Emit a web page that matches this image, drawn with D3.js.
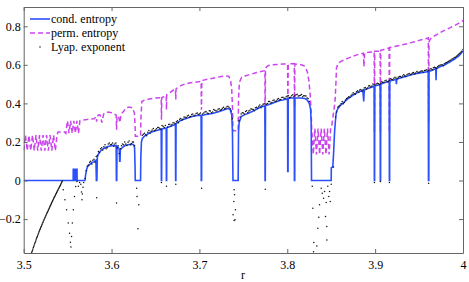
<!DOCTYPE html>
<html><head><meta charset="utf-8">
<script src="https://cdn.jsdelivr.net/npm/d3@7/dist/d3.min.js"></script>
<style>
body{margin:0;background:#fff;}
</style></head>
<body><svg id="chart" width="469" height="282"></svg>
<script>
// ---- data ----
const xTicks = [3.5, 3.6, 3.7, 3.8, 3.9, 4];
const yTicks = [-0.2, 0, 0.2, 0.4, 0.6, 0.8];
const seriesNames = ["cond. entropy", "perm. entropy", "Lyap. exponent"];

// conditional entropy (blue)
const condR = [3.500,3.5563,3.5564,3.5577,3.5578,3.5591,3.5592,3.5607,3.5608,3.5697,3.5705,3.5715,3.5725,3.575,3.5775,3.580,3.5822,3.5827,3.5833,3.5838,3.585,3.5875,3.590,3.5925,3.595,3.5975,3.600,3.6025,3.6052,3.6055,3.6059,3.6062,3.6075,3.6088,3.6092,3.6096,3.6100,3.6125,3.615,3.6175,3.620,3.6225,3.625,3.6262,3.6267,3.6270,3.6330,3.6333,3.6340,3.635,3.6375,3.640,3.6425,3.645,3.6475,3.650,3.6525,3.655,3.6565,3.6567,3.6570,3.6573,3.660,3.6622,3.6624,3.6627,3.6629,3.665,3.6675,3.670,3.6727,3.6729,3.6732,3.6734,3.675,3.6775,3.680,3.6825,3.685,3.6875,3.690,3.6925,3.695,3.6975,3.7019,3.7021,3.7025,3.7027,3.705,3.7075,3.710,3.7125,3.715,3.7175,3.720,3.7225,3.725,3.7275,3.730,3.7325,3.735,3.7368,3.7376,3.7380,3.7382,3.7441,3.7445,3.7452,3.7475,3.750,3.7525,3.755,3.7575,3.760,3.7625,3.765,3.7675,3.770,3.7745,3.7747,3.7750,3.7752,3.7775,3.780,3.7825,3.785,3.7875,3.790,3.7925,3.795,3.7975,3.8003,3.8005,3.8009,3.8011,3.805,3.8079,3.8081,3.8085,3.8087,3.810,3.8125,3.815,3.8175,3.820,3.8225,3.825,3.8265,3.8272,3.8276,3.8500,3.8501,3.8518,3.8528,3.8538,3.8548,3.8558,3.8575,3.860,3.8625,3.865,3.8675,3.870,3.8725,3.875,3.8775,3.880,3.8825,3.8860,3.8870,3.8876,3.890,3.8925,3.895,3.8975,3.8989,3.8991,3.8994,3.8996,3.9025,3.9057,3.9059,3.9062,3.9064,3.9075,3.910,3.9125,3.915,3.9160,3.9162,3.9165,3.9167,3.920,3.9225,3.9238,3.9242,3.9246,3.9275,3.930,3.9325,3.935,3.9375,3.940,3.9425,3.945,3.9475,3.950,3.9525,3.955,3.9575,3.9605,3.9607,3.9611,3.9613,3.9625,3.965,3.9675,3.969,3.9693,3.9697,3.9725,3.975,3.9775,3.980,3.9825,3.985,3.9875,3.990,3.9925,3.995,3.9975,4.000];
const condV = [0,0,0.058,0.058,0,0,0.058,0.058,0,0,0.03,0.055,0.07,0.083,0.092,0.098,0.105,0,0,0.12,0.138,0.153,0.163,0.17,0.175,0.178,0.18,0.182,0.18,0,0,0.178,0.172,0.16,0.10,0.10,0.158,0.172,0.18,0.184,0.187,0.188,0.187,0.17,0.08,0,0,0.12,0.2,0.218,0.23,0.238,0.245,0.25,0.254,0.258,0.261,0.265,0.267,0,0,0.268,0.27,0.272,0,0,0.274,0.278,0.282,0.287,0.29,0,0,0.293,0.3,0.308,0.314,0.318,0.322,0.326,0.33,0.333,0.335,0.337,0.338,0,0,0.338,0.34,0.342,0.344,0.346,0.348,0.351,0.354,0.358,0.362,0.366,0.37,0.373,0.368,0.34,0.25,0.08,0,0,0.25,0.3,0.332,0.338,0.343,0.348,0.353,0.358,0.364,0.37,0.376,0.382,0.387,0,0,0.389,0.392,0.396,0.4,0.405,0.409,0.413,0.416,0.418,0.421,0.423,0.047,0.047,0.425,0.428,0.428,0,0,0.428,0.428,0.428,0.428,0.427,0.425,0.418,0.4,0.37,0.3,0,0,0.066,0.07,0.15,0.25,0.31,0.355,0.372,0.388,0.398,0.408,0.418,0.428,0.435,0.443,0.45,0.457,0.462,0.468,0.41,0.468,0.475,0.479,0.483,0.487,0.489,0,0,0.49,0.494,0.497,0,0,0.499,0.502,0.507,0.51,0.513,0.515,0,0,0.516,0.52,0.523,0.524,0.50,0.525,0.53,0.533,0.537,0.54,0.543,0.547,0.55,0.553,0.555,0.557,0.559,0.561,0.563,0.565,0,0,0.567,0.568,0.572,0.577,0.58,0.52,0.58,0.587,0.592,0.597,0.602,0.609,0.615,0.622,0.629,0.637,0.645,0.657,0.672];

// permutation entropy (magenta, dashed)
const permR = [3.500,3.502,3.504,3.506,3.508,3.510,3.512,3.514,3.516,3.518,3.520,3.522,3.524,3.526,3.528,3.530,3.532,3.534,3.536,3.538,3.539,3.5465,3.548,3.5498,3.5516,3.5534,3.5552,3.557,3.5588,3.5606,3.5624,3.564,3.570,3.575,3.580,3.5825,3.583,3.5835,3.585,3.587,3.589,3.591,3.5925,3.596,3.600,3.603,3.6052,3.6057,3.6062,3.608,3.6094,3.611,3.614,3.616,3.619,3.622,3.624,3.626,3.6268,3.627,3.633,3.6335,3.6345,3.638,3.642,3.646,3.650,3.6565,3.6568,3.6572,3.660,3.6622,3.6625,3.6628,3.666,3.670,3.6728,3.6731,3.6734,3.676,3.680,3.685,3.690,3.695,3.7019,3.7023,3.7027,3.706,3.710,3.715,3.720,3.725,3.730,3.7335,3.7355,3.7368,3.7376,3.7382,3.7441,3.7445,3.7455,3.748,3.752,3.756,3.760,3.765,3.770,3.7745,3.7748,3.7752,3.778,3.782,3.788,3.794,3.8003,3.8007,3.8011,3.805,3.8079,3.8083,3.8087,3.812,3.816,3.819,3.821,3.823,3.8245,3.826,3.8272,3.8278,3.8296,3.8314,3.8332,3.835,3.8368,3.8386,3.8404,3.8422,3.844,3.8458,3.8476,3.8494,3.8505,3.852,3.8535,3.8545,3.8555,3.856,3.858,3.861,3.865,3.870,3.875,3.880,3.8866,3.8873,3.888,3.893,3.8989,3.8992,3.8996,3.903,3.9057,3.9060,3.9064,3.910,3.9159,3.9162,3.9166,3.920,3.925,3.930,3.935,3.940,3.945,3.950,3.955,3.9595,3.9605,3.9609,3.9613,3.963,3.966,3.970,3.975,3.980,3.985,3.990,3.995,4.000];
const permV = [0.155,0.235,0.155,0.235,0.155,0.235,0.155,0.235,0.155,0.235,0.155,0.235,0.155,0.235,0.155,0.235,0.155,0.235,0.155,0.235,0.252,0.252,0.245,0.31,0.245,0.31,0.245,0.31,0.245,0.31,0.245,0.31,0.315,0.318,0.32,0.33,0.305,0.33,0.34,0.34,0.3,0.345,0.345,0.355,0.352,0.345,0.34,0.263,0.33,0.335,0.3,0.345,0.36,0.375,0.38,0.38,0.375,0.35,0.28,0.23,0.23,0.33,0.41,0.418,0.422,0.425,0.428,0.43,0.315,0.43,0.435,0.44,0.367,0.445,0.455,0.468,0.472,0.42,0.475,0.485,0.495,0.502,0.507,0.51,0.514,0.367,0.518,0.522,0.526,0.53,0.535,0.54,0.543,0.54,0.52,0.47,0.38,0.258,0.258,0.42,0.51,0.535,0.542,0.548,0.553,0.56,0.566,0.57,0.30,0.584,0.595,0.6,0.602,0.604,0.605,0.40,0.605,0.606,0.606,0.38,0.605,0.603,0.6,0.595,0.585,0.56,0.52,0.45,0.35,0.27,0.135,0.27,0.135,0.27,0.135,0.27,0.135,0.27,0.135,0.27,0.135,0.27,0.28,0.33,0.38,0.42,0.52,0.585,0.608,0.618,0.626,0.636,0.645,0.653,0.66,0.59,0.662,0.665,0.668,0.25,0.67,0.67,0.671,0.25,0.675,0.68,0.688,0.25,0.69,0.693,0.698,0.703,0.708,0.714,0.72,0.727,0.733,0.738,0.74,0.30,0.72,0.735,0.745,0.757,0.77,0.781,0.792,0.803,0.815,0.83];

// Lyapunov exponent (black dots), main samples
const lyapR = [3.509,3.510,3.511,3.512,3.513,3.514,3.515,3.516,3.517,3.518,3.519,3.520,3.521,3.522,3.523,3.524,3.525,3.526,3.527,3.528,3.529,3.530,3.531,3.532,3.533,3.534,3.535,3.536,3.537,3.538,3.539,3.540,3.541,3.542,3.543,3.544,
3.5450,3.5469,3.5488,3.5507,3.5522,3.5532,3.5538,3.5545,3.5553,3.5565,3.5578,3.5592,3.5607,3.5622,3.5636,3.5650,3.5658,3.5663,3.5668,3.5675,3.5683,
3.5700,3.5725,3.5750,3.5775,3.5800,3.5825,3.5850,3.5875,3.5900,3.5925,3.5950,3.5975,3.6000,3.6025,3.6050,3.6075,3.6100,3.6125,3.6150,3.6175,3.6200,3.6225,3.6250,3.6285,3.6290,3.6300,3.6310,3.6350,3.6375,3.6400,3.6425,3.6450,3.6475,3.6500,3.6525,3.6550,3.6575,3.6600,3.6625,3.6650,3.6675,3.6700,3.6725,3.6750,3.6775,3.6800,3.6825,3.6850,3.6875,3.6900,3.6925,3.6950,3.6975,3.7000,3.7025,3.7050,3.7075,3.7100,3.7125,3.7150,3.7175,3.7200,3.7225,3.7250,3.7275,3.7300,3.7325,3.7350,3.7375,3.7383,3.7392,3.7395,3.7400,3.7405,3.7410,3.7395,3.7450,3.7475,3.7500,3.7525,3.7550,3.7575,3.7600,3.7625,3.7650,3.7675,3.7700,3.7725,3.7750,3.7775,3.7800,3.7825,3.7850,3.7875,3.7900,3.7925,3.7950,3.7975,3.8000,3.8025,3.8050,3.8075,3.8100,3.8125,3.8150,3.8175,3.8200,3.8225,3.8250,
3.8284,3.8291,3.8302,3.8299,3.8336,3.8359,3.8348,3.8386,3.8398,3.8413,3.8367,3.8424,3.8443,3.8461,3.8473,3.8489,3.8450,3.8435,3.8451,3.8481,3.8500,3.8525,
3.8550,3.8575,3.8600,3.8625,3.8650,3.8675,3.8700,3.8725,3.8750,3.8775,3.8800,3.8825,3.8850,3.8875,3.8900,3.8925,3.8950,3.8975,3.8992,3.9000,3.9025,3.9050,3.9060,3.9075,3.9100,3.9125,3.9150,3.9162,3.9175,3.9200,3.9225,3.9250,3.9275,3.9300,3.9325,3.9350,3.9375,3.9400,3.9425,3.9450,3.9475,3.9500,3.9525,3.9550,3.9575,3.9600,3.9609,3.9625,3.9650,3.9675,3.9700,3.9725,3.9750,3.9775,3.9800,3.9825,3.9850,3.9875,3.9900,3.9925,3.9950,3.9975,4.0000,
3.5830,3.6057,3.6731,3.6568];
const lyapV = [-0.375,-0.362,-0.348,-0.335,-0.322,-0.309,-0.296,-0.284,-0.272,-0.260,-0.249,-0.238,-0.227,-0.216,-0.205,-0.195,-0.184,-0.174,-0.164,-0.154,-0.144,-0.134,-0.124,-0.114,-0.105,-0.095,-0.086,-0.076,-0.067,-0.058,-0.049,-0.040,-0.031,-0.022,-0.012,-0.003,
-0.048,-0.10,-0.152,-0.221,-0.273,-0.32,-0.345,-0.29,-0.221,-0.152,-0.083,-0.031,-0.005,-0.03,-0.01,-0.02,-0.06,-0.10,-0.07,-0.035,-0.01,
0.01,0.075,0.095,0.085,0.11,0.125,0.15,0.165,0.158,0.185,0.17,0.195,0.188,0.178,0.195,0.18,0.165,0.19,0.2,0.182,0.205,0.192,0.2,-0.04,-0.083,-0.25,-0.126,0.235,0.245,0.232,0.26,0.255,0.27,0.262,0.275,0.27,0.285,0.275,-0.03,0.29,0.282,0.3,0.295,0.31,0.318,0.312,0.33,0.325,0.338,0.332,0.345,0.338,0.35,0.345,-0.04,0.35,0.358,0.348,0.36,0.355,0.365,0.36,0.372,0.368,0.38,0.375,0.385,0.372,0.32,-0.178,-0.109,-0.048,-0.074,-0.204,-0.152,-0.207,0.31,0.345,0.35,0.358,0.352,0.365,0.37,0.362,0.38,0.385,0.378,0.395,-0.045,0.4,0.41,0.405,0.418,0.412,0.425,0.42,0.432,0.425,0.438,0.43,0.44,0.435,0.445,0.438,0.442,0.435,0.44,0.428,0.41,
-0.03,-0.144,-0.322,-0.37,-0.34,-0.19,-0.248,-0.04,-0.066,-0.092,-0.126,-0.057,-0.114,-0.03,-0.083,-0.109,-0.239,-0.187,-0.308,-0.057,-0.02,0.07,
0.33,0.38,0.39,0.41,0.405,0.425,0.435,0.44,0.455,0.448,0.465,0.47,0.462,0.48,0.475,0.49,0.485,0.5,-0.01,0.495,0.505,0.498,-0.005,0.512,0.508,0.52,0.515,-0.01,0.528,0.522,0.535,0.528,0.54,0.535,0.548,0.54,0.552,0.548,0.558,0.552,0.565,0.56,0.568,0.562,0.572,0.568,-0.014,0.578,0.575,0.588,0.582,0.595,0.6,0.595,0.61,0.615,0.622,0.63,0.638,0.645,0.655,0.665,0.68,
-0.09,-0.117,-0.02,-0.01];

// Lyapunov exponent, in-between samples
const lyapR2 = [3.5095,3.5105,3.5115,3.5125,3.5135,3.5145,3.5155,3.5165,3.5175,3.5185,3.5195,3.5205,3.5215,3.5225,3.5235,3.5245,3.5255,3.5265,3.5275,3.5285,3.5295,3.5305,3.5315,3.5325,3.5335,3.5345,3.5355,3.5365,3.5375,3.5385,3.5395,3.5405,3.5415,3.5425,3.5435,
3.57125,3.57375,3.57625,3.57875,3.58125,3.58375,3.58625,3.58875,3.59125,3.59375,3.59625,3.59875,3.60125,3.60375,3.60625,3.60875,3.61125,3.61375,3.61625,3.61875,3.62125,3.62375,3.62625,3.63625,3.63875,3.64125,3.64375,3.64625,3.64875,3.65125,3.65375,3.65625,3.65875,3.66125,3.66375,3.66625,3.66875,3.67125,3.67375,3.67625,3.67875,3.68125,3.68375,3.68625,3.68875,3.69125,3.69375,3.69625,3.69875,3.70125,3.70375,3.70625,3.70875,3.71125,3.71375,3.71625,3.71875,3.72125,3.72375,3.72625,3.72875,3.73125,3.73375,3.73625,3.74625,3.74875,3.75125,3.75375,3.75625,3.75875,3.76125,3.76375,3.76625,3.76875,3.77125,3.77375,3.77625,3.77875,3.78125,3.78375,3.78625,3.78875,3.79125,3.79375,3.79625,3.79875,3.80125,3.80375,3.80625,3.80875,3.81125,3.81375,3.81625,3.81875,3.82125,3.82375,
3.85625,3.85875,3.86125,3.86375,3.86625,3.86875,3.87125,3.87375,3.87625,3.87875,3.88125,3.88375,3.88625,3.88875,3.89125,3.89375,3.89625,3.89875,3.90125,3.90375,3.90625,3.90875,3.91125,3.91375,3.91625,3.91875,3.92125,3.92375,3.92625,3.92875,3.93125,3.93375,3.93625,3.93875,3.94125,3.94375,3.94625,3.94875,3.95125,3.95375,3.95625,3.95875,3.96125,3.96375,3.96625,3.96875,3.97125,3.97375,3.97625,3.97875,3.98125,3.98375,3.98625,3.98875,3.99125,3.99375,3.99625,3.99875];
const lyapV2 = [-0.368,-0.355,-0.341,-0.328,-0.315,-0.302,-0.29,-0.278,-0.266,-0.254,-0.243,-0.232,-0.221,-0.21,-0.2,-0.189,-0.179,-0.169,-0.159,-0.149,-0.139,-0.129,-0.119,-0.109,-0.1,-0.09,-0.081,-0.071,-0.062,-0.053,-0.044,-0.035,-0.026,-0.017,-0.007,
0.05,0.08,0.1,0.105,0.095,0.13,0.145,0.17,0.175,0.165,0.19,0.185,0.195,0.19,0.17,0.14,0.18,0.185,0.19,0.198,0.185,0.2,0.18,0.24,0.238,0.25,0.245,0.262,0.258,0.268,0.275,0.265,0.28,0.285,0.278,0.292,0.29,0.298,0.305,0.3,0.322,0.318,0.328,0.335,0.328,0.342,0.335,0.348,0.342,0.35,0.345,0.355,0.35,0.362,0.352,0.368,0.362,0.37,0.365,0.375,0.372,0.383,0.38,0.36,0.33,0.352,0.345,0.362,0.36,0.372,0.368,0.378,0.375,0.392,0.388,0.398,0.395,0.41,0.402,0.415,0.41,0.422,0.418,0.43,0.428,0.435,0.44,0.432,0.445,0.44,0.448,0.44,0.446,0.44,0.438,0.425,
0.355,0.385,0.4,0.398,0.418,0.428,0.43,0.448,0.45,0.46,0.458,0.472,0.47,0.482,0.48,0.492,0.49,0.498,0.5,0.502,0.505,0.51,0.518,0.512,0.52,0.525,0.53,0.532,0.535,0.54,0.542,0.545,0.548,0.555,0.552,0.56,0.558,0.562,0.565,0.568,0.57,0.575,0.572,0.58,0.585,0.585,0.592,0.598,0.6,0.605,0.612,0.618,0.625,0.632,0.64,0.65,0.66,0.67];

// ---- drawing ----
const M = {left: 23.7, right: 463, top: 7, bottom: 253};
const svg = d3.select("#chart");
const x = d3.scaleLinear().domain([3.5, 4]).range([M.left, M.right]);
const y = d3.scaleLinear().domain([-0.376, 0.9]).range([M.bottom, M.top]);

const axisColor = "#666";
const serif = "'Liberation Serif'";
svg.append("defs").append("clipPath").attr("id", "clip")
  .append("rect").attr("x", M.left).attr("y", M.top)
  .attr("width", M.right - M.left).attr("height", M.bottom - M.top);

const plot = svg.append("g").attr("clip-path", "url(#clip)");
const line = d3.line().x(d => x(d[0])).y(d => y(d[1]));

const permData = permR.map((r, i) => [r, permV[i]]);
const condData = condR.map((r, i) => [r, condV[i]]);
const lyapData = lyapR.map((r, i) => [r, lyapV[i]]).concat(lyapR2.map((r, i) => [r, lyapV2[i]]));

plot.append("path").datum(permData).attr("d", line)
  .attr("fill", "none").attr("stroke", "#cc44ee").attr("stroke-width", 1.5)
  .attr("stroke-dasharray", "5,3");
plot.append("path").datum(condData).attr("d", line)
  .attr("fill", "none").attr("stroke", "#2a50ff").attr("stroke-width", 1.6);
plot.selectAll("circle.ly").data(lyapData).enter().append("circle")
  .attr("class", "ly").attr("cx", d => x(d[0])).attr("cy", d => y(d[1]))
  .attr("r", 0.75).attr("fill", "#111");

function styleAxis(g) {
  g.attr("font-family", null);
  g.select(".domain").attr("stroke", axisColor);
  g.selectAll(".tick line").attr("stroke", axisColor);
  g.selectAll(".tick text").attr("fill", "#000").attr("font-size", 12)
    .style("font-family", serif);
}
const fmtY = d => d < 0 ? "\u2212" + Math.abs(d) : String(d);
svg.append("g").attr("transform", `translate(0,${M.bottom})`)
  .call(d3.axisBottom(x).tickValues(xTicks).tickFormat(d => String(d)).tickSizeInner(-4).tickSizeOuter(0).tickPadding(7))
  .call(styleAxis);
svg.append("g").attr("transform", `translate(0,${M.top})`)
  .call(d3.axisTop(x).tickValues(xTicks).tickFormat("").tickSizeInner(-4).tickSizeOuter(0))
  .call(styleAxis);
svg.append("g").attr("transform", `translate(${M.left},0)`)
  .call(d3.axisLeft(y).tickValues(yTicks).tickFormat(fmtY).tickSizeInner(-4).tickSizeOuter(0).tickPadding(3))
  .call(styleAxis);
svg.append("g").attr("transform", `translate(${M.right},0)`)
  .call(d3.axisRight(y).tickValues(yTicks).tickFormat("").tickSizeInner(-4).tickSizeOuter(0))
  .call(styleAxis);

svg.append("text").attr("x", 243).attr("y", 279)
  .attr("text-anchor", "middle").attr("font-size", 12).style("font-family", serif).text("r");

// legend
const lg = svg.append("g");
const ly0 = 19, dy = 14;
lg.append("line").attr("x1", 30).attr("x2", 50).attr("y1", ly0).attr("y2", ly0)
  .attr("stroke", "#2a50ff").attr("stroke-width", 1.6);
lg.append("line").attr("x1", 30).attr("x2", 50).attr("y1", ly0 + dy).attr("y2", ly0 + dy)
  .attr("stroke", "#cc44ee").attr("stroke-width", 1.5).attr("stroke-dasharray", "5,3");
lg.append("circle").attr("cx", 40).attr("cy", ly0 + 2 * dy).attr("r", 0.75).attr("fill", "#111");
seriesNames.forEach((s, i) => {
  lg.append("text").attr("x", 51).attr("y", ly0 + i * dy + 4).attr("font-size", 12)
    .style("font-family", serif).text(s);
});
</script></body></html>
